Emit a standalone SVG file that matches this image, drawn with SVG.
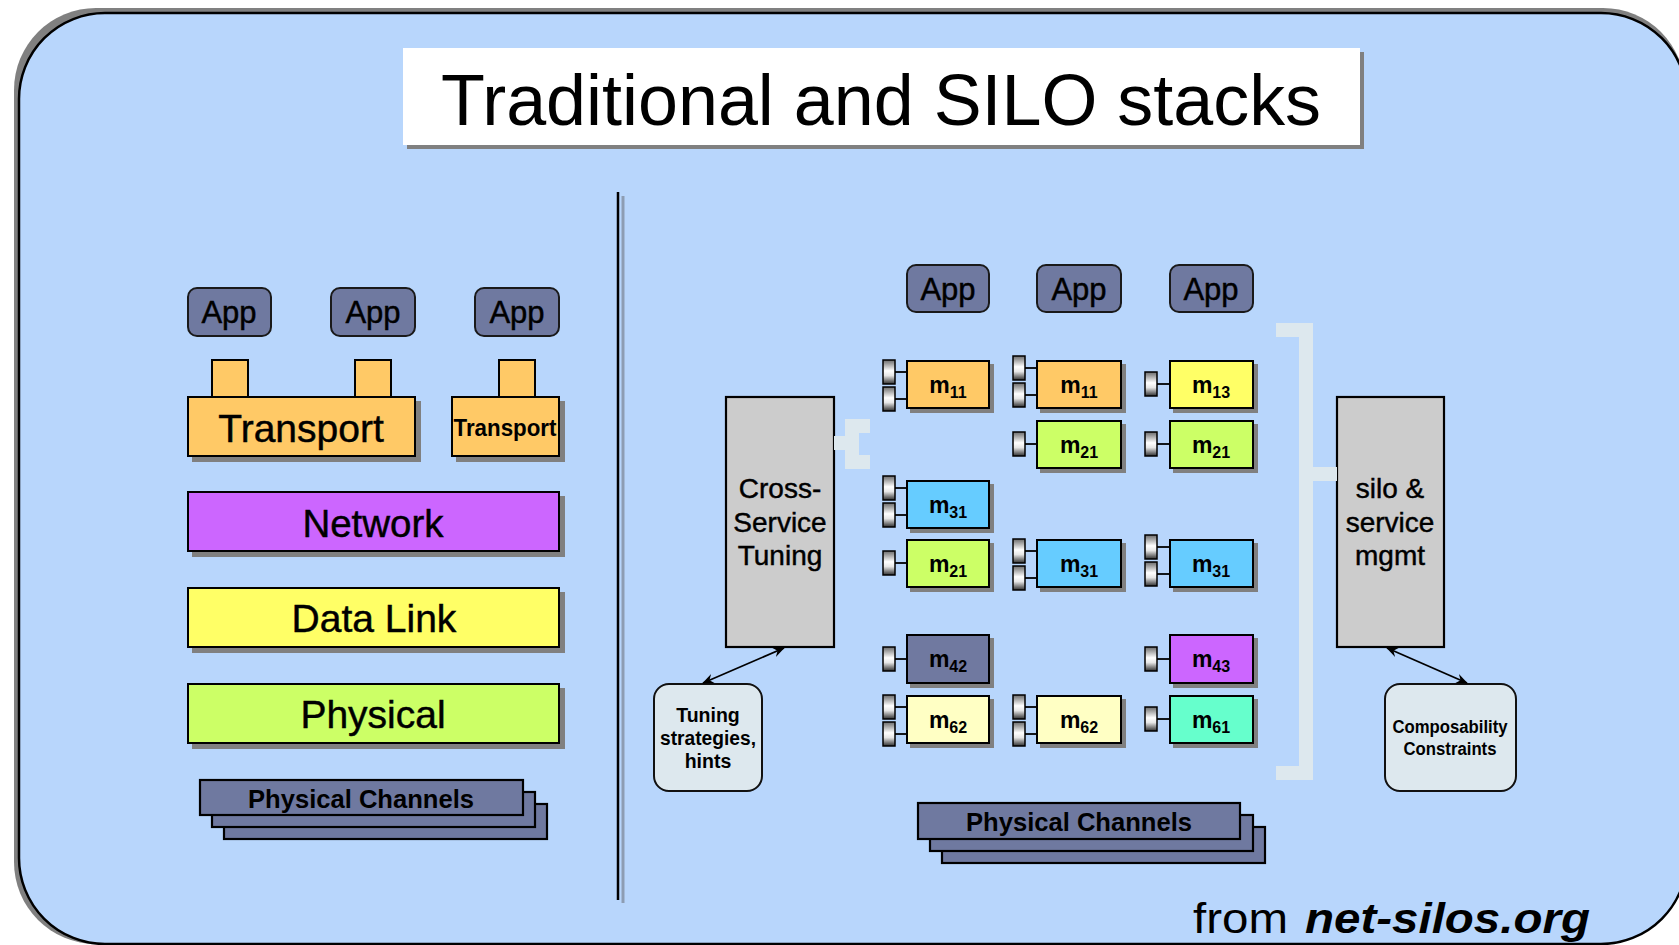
<svg xmlns="http://www.w3.org/2000/svg" width="1679" height="945" viewBox="0 0 1679 945">
  <style>
    .t { font-family: "Liberation Sans", Arial, Helvetica, sans-serif; fill: #000; text-anchor: middle; }
    .h { stroke: #000; stroke-width: 0.45; }
    .b { font-weight: bold; }
    .m { font-weight: bold; font-size: 23px; }
    .m tspan { font-size: 16px; }
    .box { stroke: #000; stroke-width: 2; }
    .app { fill: #6f79a0; stroke: #1a1a1a; stroke-width: 2; }
    .chan { fill: #6f79a0; stroke: #000; stroke-width: 2.2; }
    .plug { fill: url(#plugGrad); stroke: #000; stroke-width: 1.5; }
    .wire { stroke: #000; stroke-width: 1.8; }
    .mgmt { fill: #cccccc; stroke: #000; stroke-width: 2.2; }
    .note { fill: #dde8ee; stroke: #111; stroke-width: 2; }
    .bracket { fill: #dde8ee; }
    .arrow { stroke: #000; stroke-width: 1.8; fill: none; marker-start: url(#ah); marker-end: url(#ah); }
    .orange { fill: #ffc966; }
    .green { fill: #ccff66; }
    .blue { fill: #66ccff; }
    .yellow { fill: #ffff66; }
    .slate { fill: #6f79a0; }
    .cream { fill: #ffffc4; }
    .purple { fill: #cc66ff; }
    .mint { fill: #66ffcc; }
  </style>
  <defs>
    <linearGradient id="plugGrad" x1="0" y1="0" x2="0" y2="1">
      <stop offset="0" stop-color="#6a6a6a"/>
      <stop offset="0.45" stop-color="#ffffff"/>
      <stop offset="0.65" stop-color="#e6e6e6"/>
      <stop offset="1" stop-color="#2e2e2e"/>
    </linearGradient>
    <filter id="sh" x="-10%" y="-10%" width="130%" height="140%">
      <feOffset in="SourceAlpha" dx="5" dy="5" result="o"/>
      <feFlood flood-color="#808080"/>
      <feComposite in2="o" operator="in" result="s"/>
      <feMerge><feMergeNode in="s"/><feMergeNode in="SourceGraphic"/></feMerge>
    </filter>
    <filter id="shs" x="-10%" y="-10%" width="130%" height="140%">
      <feOffset in="SourceAlpha" dx="4" dy="4" result="o"/>
      <feFlood flood-color="#808080"/>
      <feComposite in2="o" operator="in" result="s"/>
      <feMerge><feMergeNode in="s"/><feMergeNode in="SourceGraphic"/></feMerge>
    </filter>
    <marker id="ah" viewBox="0 0 12 10" refX="11" refY="5" markerWidth="12" markerHeight="10" markerUnits="userSpaceOnUse" orient="auto-start-reverse">
      <path d="M0,0 L12,5 L0,10 L4,5 z" fill="#000"/>
    </marker>
  </defs>

  <!-- slide panel -->
  <g id="panel">
    <rect x="14" y="8" width="1671" height="936" rx="82" fill="#808080"/>
    <rect x="19" y="13" width="1668" height="931" rx="86" fill="#b8d6fc" stroke="#000" stroke-width="2.5"/>
  </g>

  <!-- title -->
  <g id="title">
    <rect x="403" y="48" width="957" height="97" fill="#fff" filter="url(#shs)"/>
    <text class="t" x="881" y="125" font-size="72" textLength="880" lengthAdjust="spacingAndGlyphs">Traditional and SILO stacks</text>
  </g>

  <!-- divider between the two stacks -->
  <g id="divider">
    <line x1="623" y1="196" x2="623" y2="903" stroke="#8d9db3" stroke-width="3"/>
    <line x1="618" y1="192" x2="618" y2="900" stroke="#000" stroke-width="2.5"/>
  </g>

  <!-- ===== traditional stack ===== -->
  <g id="trad-app-1"><rect class="app" x="188" y="288" width="83" height="48" rx="9"/><text class="t h" x="229" y="323" font-size="31">App</text></g>
  <g id="trad-app-2"><rect class="app" x="331" y="288" width="84" height="48" rx="9"/><text class="t h" x="373" y="323" font-size="31">App</text></g>
  <g id="trad-app-3"><rect class="app" x="475" y="288" width="84" height="48" rx="9"/><text class="t h" x="517" y="323" font-size="31">App</text></g>

  <g id="trad-ports">
    <rect class="box orange" x="212" y="360" width="36" height="37"/>
    <rect class="box orange" x="355" y="360" width="36" height="37"/>
    <rect class="box orange" x="499" y="360" width="36" height="37"/>
  </g>

  <g id="trad-transport-shared">
    <rect class="box orange" x="188" y="397" width="227" height="59" filter="url(#sh)"/>
    <text class="t h" x="301" y="442" font-size="39">Transport</text>
  </g>
  <g id="trad-transport-own">
    <rect class="box orange" x="452" y="397" width="107" height="59" filter="url(#sh)"/>
    <text class="t b" x="505" y="436" font-size="23" textLength="103" lengthAdjust="spacingAndGlyphs">Transport</text>
  </g>
  <g id="trad-network">
    <rect class="box purple" x="188" y="492" width="371" height="59" filter="url(#sh)"/>
    <text class="t h" x="373" y="537" font-size="38.5">Network</text>
  </g>
  <g id="trad-datalink">
    <rect class="box yellow" x="188" y="588" width="371" height="59" filter="url(#sh)"/>
    <text class="t h" x="374" y="632" font-size="39">Data Link</text>
  </g>
  <g id="trad-physical">
    <rect class="box green" x="188" y="684" width="371" height="59" filter="url(#sh)"/>
    <text class="t h" x="373" y="728" font-size="39">Physical</text>
  </g>
  <g id="trad-channels">
    <rect class="chan" x="224" y="804" width="323" height="35"/>
    <rect class="chan" x="212" y="792" width="323" height="35"/>
    <rect class="chan" x="200" y="780" width="323" height="35"/>
    <text class="t b" x="361" y="808" font-size="25.5" textLength="226" lengthAdjust="spacingAndGlyphs">Physical Channels</text>
  </g>

  <!-- ===== SILO stack ===== -->
  <g id="silo-app-1"><rect class="app" x="907" y="265" width="82" height="47" rx="9"/><text class="t h" x="948" y="300" font-size="31">App</text></g>
  <g id="silo-app-2"><rect class="app" x="1037" y="265" width="84" height="47" rx="9"/><text class="t h" x="1079" y="300" font-size="31">App</text></g>
  <g id="silo-app-3"><rect class="app" x="1170" y="265" width="83" height="47" rx="9"/><text class="t h" x="1211" y="300" font-size="31">App</text></g>

  <g id="cross-service-tuning">
    <rect class="mgmt" x="726" y="397" width="108" height="250"/>
    <text class="t h" x="780" y="498" font-size="28">Cross-</text>
    <text class="t h" x="780" y="532" font-size="28">Service</text>
    <text class="t h" x="780" y="565" font-size="28">Tuning</text>
  </g>
  <g id="silo-service-mgmt">
    <rect class="mgmt" x="1337" y="397" width="107" height="250"/>
    <text class="t h" x="1390" y="498" font-size="28">silo &amp;</text>
    <text class="t h" x="1390" y="532" font-size="28">service</text>
    <text class="t h" x="1390" y="565" font-size="28">mgmt</text>
  </g>
  <g id="tuning-hints">
    <rect class="note" x="654" y="684" width="108" height="107" rx="15"/>
    <text class="t b" x="708" y="722" font-size="19.5">Tuning</text>
    <text class="t b" x="708" y="745" font-size="19.5" textLength="96" lengthAdjust="spacingAndGlyphs">strategies,</text>
    <text class="t b" x="708" y="768" font-size="19.5">hints</text>
  </g>
  <g id="composability">
    <rect class="note" x="1385" y="684" width="131" height="107" rx="15"/>
    <text class="t b" x="1450" y="733" font-size="18" textLength="115" lengthAdjust="spacingAndGlyphs">Composability</text>
    <text class="t b" x="1450" y="755" font-size="18" textLength="93" lengthAdjust="spacingAndGlyphs">Constraints</text>
  </g>

  <!-- column 1 modules -->
  <g id="c1-m11">
    <rect class="box orange" x="907" y="361" width="82" height="47" filter="url(#shs)"/>
    <text class="t m" x="948" y="393">m<tspan dy="5">11</tspan></text>
  </g>
  <g id="c1-m31">
    <rect class="box blue" x="907" y="481" width="82" height="47" filter="url(#shs)"/>
    <text class="t m" x="948" y="513">m<tspan dy="5">31</tspan></text>
  </g>
  <g id="c1-m21">
    <rect class="box green" x="907" y="540" width="82" height="47" filter="url(#shs)"/>
    <text class="t m" x="948" y="572">m<tspan dy="5">21</tspan></text>
  </g>
  <g id="c1-m42">
    <rect class="box slate" x="907" y="635" width="82" height="48" filter="url(#shs)"/>
    <text class="t m" x="948" y="667">m<tspan dy="5">42</tspan></text>
  </g>
  <g id="c1-m62">
    <rect class="box cream" x="907" y="696" width="82" height="47" filter="url(#shs)"/>
    <text class="t m" x="948" y="728">m<tspan dy="5">62</tspan></text>
  </g>

  <!-- column 2 modules -->
  <g id="c2-m11">
    <rect class="box orange" x="1037" y="361" width="84" height="47" filter="url(#shs)"/>
    <text class="t m" x="1079" y="393">m<tspan dy="5">11</tspan></text>
  </g>
  <g id="c2-m21">
    <rect class="box green" x="1037" y="421" width="84" height="47" filter="url(#shs)"/>
    <text class="t m" x="1079" y="453">m<tspan dy="5">21</tspan></text>
  </g>
  <g id="c2-m31">
    <rect class="box blue" x="1037" y="540" width="84" height="47" filter="url(#shs)"/>
    <text class="t m" x="1079" y="572">m<tspan dy="5">31</tspan></text>
  </g>
  <g id="c2-m62">
    <rect class="box cream" x="1037" y="696" width="84" height="47" filter="url(#shs)"/>
    <text class="t m" x="1079" y="728">m<tspan dy="5">62</tspan></text>
  </g>

  <!-- column 3 modules -->
  <g id="c3-m13">
    <rect class="box yellow" x="1170" y="361" width="83" height="47" filter="url(#shs)"/>
    <text class="t m" x="1211" y="393">m<tspan dy="5">13</tspan></text>
  </g>
  <g id="c3-m21">
    <rect class="box green" x="1170" y="421" width="83" height="47" filter="url(#shs)"/>
    <text class="t m" x="1211" y="453">m<tspan dy="5">21</tspan></text>
  </g>
  <g id="c3-m31">
    <rect class="box blue" x="1170" y="540" width="83" height="47" filter="url(#shs)"/>
    <text class="t m" x="1211" y="572">m<tspan dy="5">31</tspan></text>
  </g>
  <g id="c3-m43">
    <rect class="box purple" x="1170" y="635" width="83" height="48" filter="url(#shs)"/>
    <text class="t m" x="1211" y="667">m<tspan dy="5">43</tspan></text>
  </g>
  <g id="c3-m61">
    <rect class="box mint" x="1170" y="696" width="83" height="47" filter="url(#shs)"/>
    <text class="t m" x="1211" y="728">m<tspan dy="5">61</tspan></text>
  </g>

  <g id="silo-channels">
    <rect class="chan" x="942" y="827" width="323" height="36"/>
    <rect class="chan" x="930" y="815" width="323" height="36"/>
    <rect class="chan" x="918" y="803" width="322" height="36"/>
    <text class="t b" x="1079" y="831" font-size="25.5" textLength="226" lengthAdjust="spacingAndGlyphs">Physical Channels</text>
  </g>

  <g id="credit">
    <text class="t" x="1193" y="933" font-size="42" style="text-anchor:start" textLength="95" lengthAdjust="spacingAndGlyphs">from</text>
    <text class="t b" x="1305" y="933" font-size="42" font-style="italic" style="text-anchor:start" textLength="285" lengthAdjust="spacingAndGlyphs">net-silos.org</text>
  </g>

  <!-- connectors: module ports, control brackets, arrows -->
  <g id="connectors">
    <!-- column 1 ports -->
    <g>
      <line class="wire" x1="895" y1="372" x2="907" y2="372"/><rect class="plug" x="883" y="360" width="12" height="24"/>
      <line class="wire" x1="895" y1="399" x2="907" y2="399"/><rect class="plug" x="883" y="387" width="12" height="24"/>
      <line class="wire" x1="895" y1="488" x2="907" y2="488"/><rect class="plug" x="883" y="476" width="12" height="24"/>
      <line class="wire" x1="895" y1="515" x2="907" y2="515"/><rect class="plug" x="883" y="503" width="12" height="24"/>
      <line class="wire" x1="895" y1="563" x2="907" y2="563"/><rect class="plug" x="883" y="551" width="12" height="24"/>
      <line class="wire" x1="895" y1="659" x2="907" y2="659"/><rect class="plug" x="883" y="647" width="12" height="24"/>
      <line class="wire" x1="895" y1="707" x2="907" y2="707"/><rect class="plug" x="883" y="695" width="12" height="24"/>
      <line class="wire" x1="895" y1="734" x2="907" y2="734"/><rect class="plug" x="883" y="722" width="12" height="24"/>
    </g>
    <!-- column 2 ports -->
    <g>
      <line class="wire" x1="1025" y1="368" x2="1037" y2="368"/><rect class="plug" x="1013" y="356" width="12" height="24"/>
      <line class="wire" x1="1025" y1="395" x2="1037" y2="395"/><rect class="plug" x="1013" y="383" width="12" height="24"/>
      <line class="wire" x1="1025" y1="444" x2="1037" y2="444"/><rect class="plug" x="1013" y="432" width="12" height="24"/>
      <line class="wire" x1="1025" y1="551" x2="1037" y2="551"/><rect class="plug" x="1013" y="539" width="12" height="24"/>
      <line class="wire" x1="1025" y1="578" x2="1037" y2="578"/><rect class="plug" x="1013" y="566" width="12" height="24"/>
      <line class="wire" x1="1025" y1="707" x2="1037" y2="707"/><rect class="plug" x="1013" y="695" width="12" height="24"/>
      <line class="wire" x1="1025" y1="734" x2="1037" y2="734"/><rect class="plug" x="1013" y="722" width="12" height="24"/>
    </g>
    <!-- column 3 ports -->
    <g>
      <line class="wire" x1="1157" y1="384" x2="1170" y2="384"/><rect class="plug" x="1145" y="372" width="12" height="24"/>
      <line class="wire" x1="1157" y1="444" x2="1170" y2="444"/><rect class="plug" x="1145" y="432" width="12" height="24"/>
      <line class="wire" x1="1157" y1="547" x2="1170" y2="547"/><rect class="plug" x="1145" y="535" width="12" height="24"/>
      <line class="wire" x1="1157" y1="574" x2="1170" y2="574"/><rect class="plug" x="1145" y="562" width="12" height="24"/>
      <line class="wire" x1="1157" y1="659" x2="1170" y2="659"/><rect class="plug" x="1145" y="647" width="12" height="24"/>
      <line class="wire" x1="1157" y1="719" x2="1170" y2="719"/><rect class="plug" x="1145" y="707" width="12" height="24"/>
    </g>
    <!-- tuning bracket -->
    <polygon class="bracket" points="834,436 845,436 845,419 870,419 870,433 859,433 859,455 870,455 870,469 845,469 845,450 834,450"/>
    <!-- management bracket -->
    <polygon class="bracket" points="1276,323 1313,323 1313,467 1337,467 1337,481 1313,481 1313,780 1276,780 1276,766 1299,766 1299,337 1276,337"/>
    <!-- two-way arrows -->
    <line class="arrow" x1="784" y1="648" x2="703" y2="683"/>
    <line class="arrow" x1="1387" y1="648" x2="1467" y2="683"/>
  </g>
</svg>
